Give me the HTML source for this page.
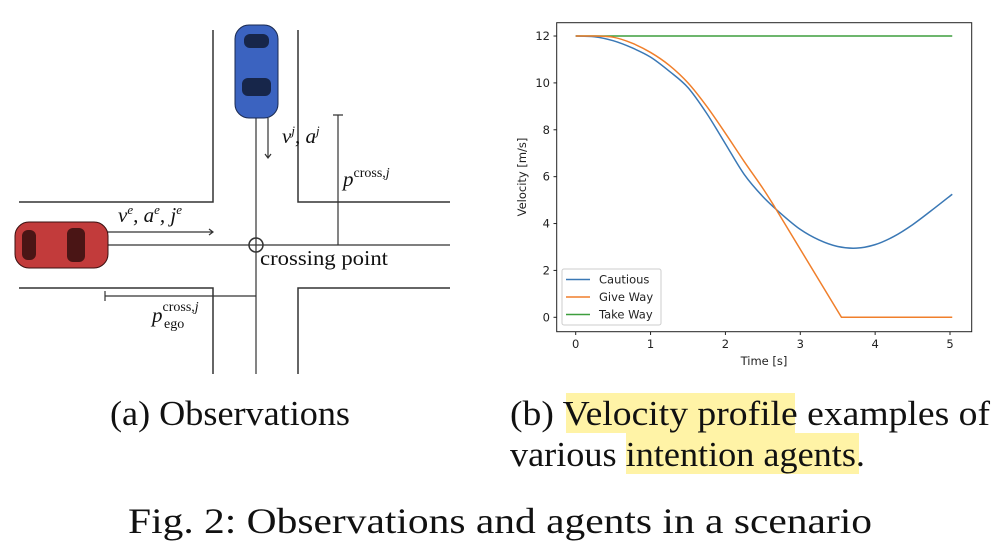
<!DOCTYPE html>
<html><head><meta charset="utf-8"><style>
body{margin:0;background:#fff;width:1002px;height:551px;overflow:hidden}
svg{display:block}
.serif{font-family:"Liberation Serif",serif;fill:#111}
.sans{font-family:"DejaVu Sans","Liberation Sans",sans-serif;fill:#222}
</style></head><body>
<svg id="root" width="1002" height="551" viewBox="0 0 1002 551">
 <g stroke="#333" stroke-width="1.5" fill="none">
  <path d="M213 30V202H19M298 30V202H450M19 288H213V374M450 288H298V374"/>
  <path d="M256 118V374M108 245H450" stroke-width="1.2"/>
  <circle cx="256" cy="245" r="7"/>
  <path d="M105 232H213M209 229L213 232L209 235" stroke-width="1.2"/>
  <path d="M268 118V158M265 154L268 158L271 154" stroke-width="1.2"/>
  <path d="M338 115V245M333 115H343" stroke-width="1.2"/>
  <path d="M105 296H256M105 291V301" stroke-width="1.2"/>
 </g>
 <g>
  <rect x="235" y="25" width="43" height="93" rx="14" fill="#3b63c0" stroke="#1a2a50"/>
  <rect x="244" y="34" width="25" height="14" rx="6" fill="#17264a"/>
  <rect x="242" y="78" width="29" height="18" rx="6" fill="#17264a"/>
 </g>
 <g>
  <rect x="15" y="222" width="93" height="46" rx="14" fill="#c23b3b" stroke="#3a1010"/>
  <rect x="22" y="230" width="14" height="30" rx="6" fill="#4a1515"/>
  <rect x="67" y="228" width="18" height="34" rx="6" fill="#4a1515"/>
 </g>
 <g class="serif" font-style="italic" font-size="21">
  <text x="118" y="222">v<tspan font-size="13" dy="-8">e</tspan><tspan dy="8">, a</tspan><tspan font-size="13" dy="-8">e</tspan><tspan dy="8">, j</tspan><tspan font-size="13" dy="-8">e</tspan></text>
  <text x="282" y="143">v<tspan font-size="13" dy="-8">j</tspan><tspan dy="8">, a</tspan><tspan font-size="13" dy="-8">j</tspan></text>
  <text x="343" y="186">p<tspan font-size="14" font-style="normal" dy="-9">cross,</tspan><tspan font-size="14">j</tspan></text>
  <text x="152" y="322">p<tspan font-size="14" font-style="normal" dy="-11">cross,</tspan><tspan font-size="14">j</tspan><tspan font-size="14" font-style="normal" x="164" dy="17">ego</tspan></text>
  <text x="260" y="265" font-style="normal" font-size="21" textLength="128" lengthAdjust="spacingAndGlyphs">crossing point</text>
 </g>
 <g id="chart"></g>
 <rect x="566" y="393" width="229" height="40" fill="#fff3a6"/>
 <rect x="626" y="433" width="233" height="41" fill="#fff3a6"/>
 <text class="serif" x="110" y="425" font-size="35" textLength="240" lengthAdjust="spacingAndGlyphs">(a) Observations</text>
 <text class="serif" x="510" y="425" font-size="35" textLength="480" lengthAdjust="spacingAndGlyphs">(b) Velocity profile examples of</text>
 <text class="serif" x="510" y="466" font-size="35" textLength="355" lengthAdjust="spacingAndGlyphs">various intention agents.</text>
 <text class="serif" x="128" y="533" font-size="36" textLength="744" lengthAdjust="spacingAndGlyphs">Fig. 2: Observations and agents in a scenario</text>
</svg>
<script>
const timesCautious=[0,0.25,0.5,0.75,1,1.25,1.5,1.75,2,2.25,2.5,2.75,3,3.25,3.5,3.75,4,4.25,4.5,4.75,5.03];
const valuesCautious=[12,11.97,11.8,11.5,11.1,10.5,9.8,8.7,7.4,6.1,5.15,4.4,3.75,3.3,3.02,2.95,3.1,3.45,3.95,4.55,5.25];
const timesGiveWay=[0,0.25,0.5,0.75,1,1.25,1.5,1.75,2,2.25,2.5,2.65,3.55,5.03];
const valuesGiveWay=[12,12,11.95,11.7,11.3,10.75,10.0,9.0,7.85,6.65,5.5,4.75,0,0];
const timesTakeWay=[0,5.03];
const valuesTakeWay=[12,12];
const xTicks=[0,1,2,3,4,5];
const yTicks=[0,2,4,6,8,10,12];
const legendLabels=["Cautious","Give Way","Take Way"];
const colors=["#3a78b5","#f07f2b","#3d9e3d"];
const NS="http://www.w3.org/2000/svg";
const g=document.getElementById('chart');
const X=t=>575.7+t*74.86, Y=v=>317.3-v*23.44;
function mk(tag,attrs,parent){const e=document.createElementNS(NS,tag);for(const k in attrs)e.setAttribute(k,attrs[k]);(parent||g).appendChild(e);return e;}
let frame=mk('rect',{x:556.7,y:22.7,width:415,height:309,fill:'none',stroke:'#222','stroke-width':1});


xTicks.forEach(t=>{
 let l=mk('line',{x1:X(t),x2:X(t),y1:331.7,y2:335,stroke:'#222'});
 
 
 let tx=mk('text',{x:X(t),y:348,'text-anchor':'middle','font-size':11.5,class:'sans'});tx.textContent=t;
 
 
});
yTicks.forEach(v=>{
 let l=mk('line',{x1:553.5,x2:556.7,y1:Y(v),y2:Y(v),stroke:'#222'});
 
 
 let tx=mk('text',{x:550,y:Y(v)+4,'text-anchor':'end','font-size':11.5,class:'sans'});tx.textContent=v;
 
 
});
let xt=mk('text',{x:764,y:365,'text-anchor':'middle','font-size':11.5,class:'sans'});xt.textContent='Time [s]';


let yt=mk('text',{x:526,y:177,'text-anchor':'middle','font-size':11.5,class:'sans',transform:'rotate(-90 526 177)'});yt.textContent='Velocity [m/s]';


function smooth(ts,vs){const p=ts.map((t,i)=>[X(t),Y(vs[i])]);let d='M'+p[0].join(' ');
 for(let i=0;i<p.length-1;i++){const p0=p[i-1]||p[i],p1=p[i],p2=p[i+1],p3=p[i+2]||p2;
  d+=` C${p1[0]+(p2[0]-p0[0])/6} ${p1[1]+(p2[1]-p0[1])/6} ${p2[0]-(p3[0]-p1[0])/6} ${p2[1]-(p3[1]-p1[1])/6} ${p2[0]} ${p2[1]}`;}return d;}
function lin(ts,vs){return ts.map((t,i)=>(i?'L':'M')+X(t)+' '+Y(vs[i])).join(' ');}
let s3=mk('path',{d:lin(timesTakeWay,valuesTakeWay),fill:'none',stroke:colors[2],'stroke-width':1.5});


let s1=mk('path',{d:smooth(timesCautious,valuesCautious),fill:'none',stroke:colors[0],'stroke-width':1.5});


const gw=timesGiveWay.length;
let s2=mk('path',{d:smooth(timesGiveWay.slice(0,gw-2),valuesGiveWay.slice(0,gw-2))+' '+lin(timesGiveWay.slice(gw-3),valuesGiveWay.slice(gw-3)).replace('M','L'),fill:'none',stroke:colors[1],'stroke-width':1.5});


let lg=mk('rect',{x:562,y:269,width:99,height:56,rx:2,fill:'#fff',stroke:'#ccc'});


legendLabels.forEach((lab,i)=>{const y=279.5+i*17.5;
 let l=mk('line',{x1:566,x2:590,y1:y,y2:y,stroke:colors[i],'stroke-width':1.5});
 
 
 let t=mk('text',{x:599,y:y+4,'font-size':11.5,class:'sans'});t.textContent=lab;
 
 
});
</script>
</body></html>
